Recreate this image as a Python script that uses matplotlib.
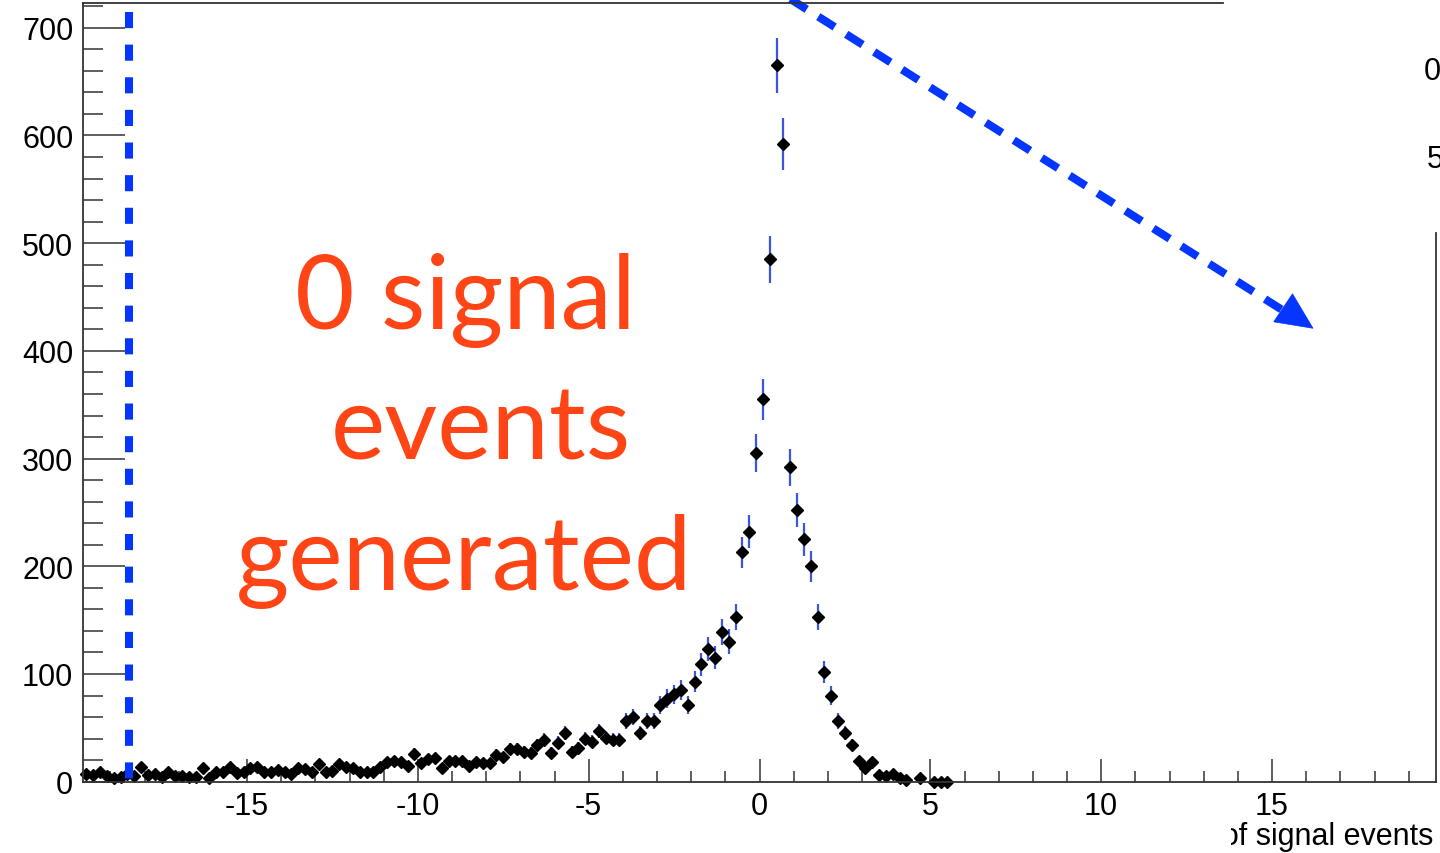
import numpy as np
import matplotlib
matplotlib.use('Agg')
import matplotlib.pyplot as plt
from matplotlib.patches import Polygon
from matplotlib.transforms import Bbox, TransformedBbox
from matplotlib.ticker import MultipleLocator, FixedLocator

plt.rcParams['font.family'] = ['Liberation Sans', 'DejaVu Sans']
plt.rcParams['axes.unicode_minus'] = False

# histogram bins, width 0.2, centres from -19.7 up to 5.5
bin_lo = -19.7
bin_w = 0.2
tail_far = [7, 6, 9, 5, 3, 4, 7, 5, 14]
tail_mid = [6, 7, 4, 9, 5, 5, 4, 4, 13, 3, 9, 9, 14, 8, 9, 13, 14, 9, 9, 11,
            9, 7, 13, 12, 9, 16, 9, 10, 16, 14, 13, 9, 9, 9, 14, 18, 19, 18,
            15, 26, 17, 21, 22, 13, 19, 19, 19, 15, 18]
tail_near = [17, 17, 25, 23, 30, 30, 28, 27, 34, 39, 27, 36, 45, 28, 31, 40,
             37, 47, 41, 39, 39, 56, 60, 45, 56, 56, 71, 77, 81, 85, 71, 93,
             109, 123, 115]
peak = [139, 130, 153, 213, 232, 305, 355, 485, 665, 592, 292, 252, 225, 200,
        153, 102, 80, 56, 45, 34, 19, 13, 18, 6, 5, 7, 3, 2, np.nan, 3, np.nan,
        0, 0, 0]

counts = np.array(tail_far + tail_mid + tail_near + peak, dtype=float)
centres = bin_lo + bin_w * np.arange(len(counts))
errs = np.sqrt(counts)

W, H = 1440, 854
fig = plt.figure(figsize=(14.4, 8.54), dpi=100)
ax = fig.add_axes([83 / W, 1 - 782.7 / H, (1436 - 83) / W, (782.7 - 4) / H])
ax.set_xlim(-19.8, 19.8)
ax.set_ylim(0, 723)

# error bars: vertical blue, horizontal black, then markers
ax.errorbar(centres, counts, yerr=errs, fmt='none', ecolor='#3a55e0', elinewidth=1.6)
ax.errorbar(centres, counts, xerr=bin_w / 2, fmt='none', ecolor='black', elinewidth=1.0)
ax.plot(centres, counts, 'D', ms=5.8, color='black', mec='black', clip_on=False)

# frame (parts of it hidden in the original screenshot)
for s in ['left', 'bottom', 'top', 'right']:
    ax.spines[s].set_color('#333333')
    ax.spines[s].set_linewidth(1.3)
ax.spines['top'].set_bounds(-19.8, 13.56)
ax.spines['right'].set_bounds(0, 509)

ax.xaxis.set_major_locator(FixedLocator([-15, -10, -5, 0, 5, 10, 15]))
ax.xaxis.set_minor_locator(MultipleLocator(1))
ax.yaxis.set_major_locator(MultipleLocator(100))
ax.yaxis.set_minor_locator(MultipleLocator(20))
ax.tick_params(axis='x', which='major', direction='in', length=16.5, width=1.1,
               color='#333333', labelsize=22, pad=7, top=False)
ax.tick_params(axis='x', which='minor', direction='in', length=8, width=1.1,
               color='#333333', top=False)
ax.tick_params(axis='y', which='major', direction='in', length=30, width=1.1,
               color='#333333', labelsize=22, pad=7, right=False)
ax.tick_params(axis='y', which='minor', direction='in', length=14.4, width=1.1,
               color='#333333', right=False)

# blue dashed vertical line
blue = '#0536ff'
ax.plot([-18.45, -18.45], [715, 0], color=blue, lw=5.8, dashes=(2.0, 2.05),
        solid_capstyle='butt', clip_on=False)

# blue dashed arrow
x0, y0 = 0.79, 729
xt, yt = 16.2, 421
xb, yb = 15.3, 438
ax.plot([x0, xb], [y0, yb], color=blue, lw=5.8, dashes=(2.4, 1.7), clip_on=False)
head = Polygon([[xt, yt], [15.05, 427], [15.6, 453]], closed=True,
               facecolor=blue, edgecolor=blue, lw=0.5, clip_on=False)
ax.add_patch(head)

# annotation text
orange = '#ff4416'
big = dict(color=orange, fontsize=74, family=['Lato', 'DejaVu Sans'],
           ha='center', va='baseline')
ax.text(-8.62, 421.5, '0 signal', **big)
ax.text(-8.15, 299.8, 'events', **big)
ax.text(-8.65, 179, 'generated', **big)

# axis title, cut off on the left in the original
xl = fig.text(1433 / W, 1 - 845 / H, 'Number of signal events', fontsize=22,
              ha='right', va='baseline')
xl.set_clip_box(TransformedBbox(Bbox([[1231 / W, 0], [1, 1]]), fig.transFigure))
xl.set_clip_on(True)

# fragments of neighbouring labels at the right edge
fig.text(1424 / W, 1 - 72 / H, '0', fontsize=22, ha='left', va='center')
fig.text(1427 / W, 1 - 160 / H, '5', fontsize=22, ha='left', va='center')

fig.savefig('out.png', dpi=100)
